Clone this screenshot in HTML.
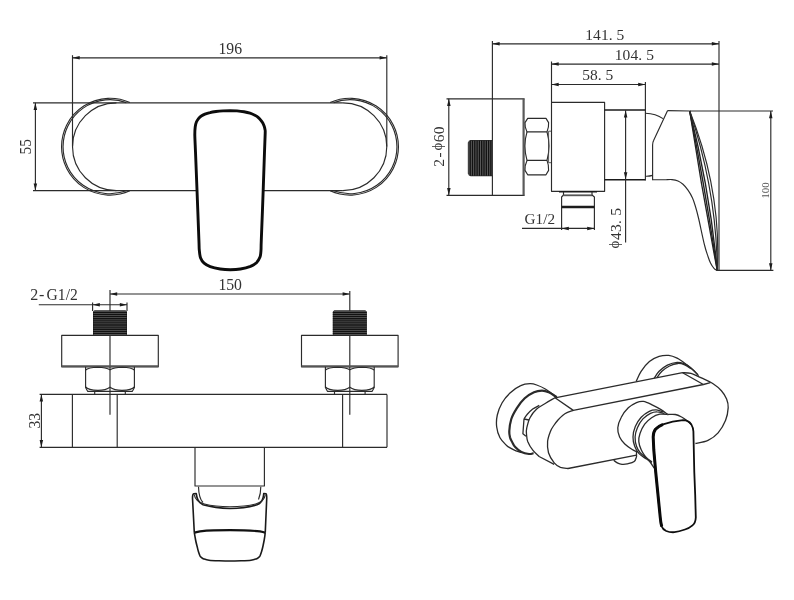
<!DOCTYPE html>
<html lang="en">
<head>
<meta charset="utf-8">
<title>Shower mixer dimension drawing</title>
<style>
html,body{margin:0;padding:0;background:#fff;}
body{width:794px;height:600px;overflow:hidden;}
svg{display:block;will-change:transform;}
svg line,svg path{fill:none;stroke:#2b2b2b;stroke-width:1.15;stroke-linecap:butt;stroke-linejoin:round;}
svg .iso path{stroke-width:1.3;}
svg .thick{stroke:#0c0c0c;stroke-width:2.9;}
svg .thick2{stroke:#111;stroke-width:2.2;}
svg .med{stroke:#1a1a1a;stroke-width:1.6;}
svg .thin{stroke:#444;stroke-width:0.9;}
svg .hatch{stroke:#121212;stroke-width:1.35;}
svg .iso path.med2{stroke:#2a2a2a;stroke-width:2.2;}
svg .iso path.hand{stroke:#0e0e0e;stroke-width:1.8;}
svg .iso path.hand3{stroke:#0a0a0a;stroke-width:3;}
svg .dbl2{stroke:#555;stroke-width:1.8;}
svg .band{stroke:#1c1c1c;stroke-width:2.6;}
svg .bl{stroke:#222;stroke-width:1.35;}
svg .thr{fill:#5e5e5e;stroke:none;}
svg .dbl{stroke:#5a5a5a;stroke-width:2.2;}
svg .ar{fill:#1c1c1c;stroke:none;}
svg text{font-family:"Liberation Serif","DejaVu Serif",serif;fill:#333;stroke:none;}
svg text.lt{fill:#555;}
</style>
</head>
<body>
<svg width="794" height="600" viewBox="0 0 794 600">
<rect x="0" y="0" width="794" height="600" fill="#ffffff" stroke="none"/>
<g id="view-front">
<line x1="72.5" y1="55.2" x2="72.5" y2="146.6"/>
<line x1="386.8" y1="55.2" x2="386.8" y2="146.6"/>
<line x1="72.5" y1="57.8" x2="386.8" y2="57.8"/>
<polygon points="72.5,57.8 79.7,56.0 79.7,59.5" class="ar"/>
<polygon points="386.8,57.8 379.6,56.0 379.6,59.5" class="ar"/>
<text font-size="17" text-anchor="middle" x="230.3" y="53.8" textLength="23.6" lengthAdjust="spacingAndGlyphs">196</text>
<line x1="35.4" y1="102.8" x2="35.4" y2="190.6"/>
<polygon points="35.4,102.8 33.6,110.0 37.1,110.0" class="ar"/>
<polygon points="35.4,190.6 33.6,183.4 37.1,183.4" class="ar"/>
<text font-size="16.4" text-anchor="middle" x="31.4" y="146.7" transform="rotate(-90 31.4 146.7)" textLength="15.4" lengthAdjust="spacingAndGlyphs">55</text>
<line x1="33" y1="102.8" x2="342.9" y2="102.8"/>
<line x1="33" y1="190.6" x2="197" y2="190.6"/>
<line x1="263.2" y1="190.6" x2="342.9" y2="190.6"/>
<path d="M116.4 102.8 A43.9 43.9 0 0 0 116.4 190.6"/>
<path d="M342.9 102.8 A43.9 43.9 0 0 1 342.9 190.6"/>
<path d="M129.9 102.6 A48.4 48.4 0 1 0 129.9 190.8"/>
<path d="M330.1 102.6 A48.4 48.4 0 1 1 330.1 190.8"/>
<path d="M126.3 102.6 A47.0 47.0 0 1 0 126.3 190.8"/>
<path d="M333.7 102.6 A47.0 47.0 0 1 1 333.7 190.8"/>
<path d="M194.8 135.0 C194.8 130.8 194.9 129.2 195.2 127.0 C195.5 124.8 195.8 123.4 196.4 122.0 C197.0 120.6 197.7 119.6 198.5 118.6 C199.3 117.6 200.2 116.7 201.3 116.0 C202.4 115.3 203.5 114.8 204.9 114.2 C206.3 113.6 208.2 113.0 210.0 112.6 C211.8 112.1 213.8 111.8 216.0 111.5 C218.2 111.2 220.7 111.0 223.0 110.9 C225.3 110.8 227.7 110.7 230.0 110.7 C232.3 110.7 234.7 110.7 237.0 110.9 C239.3 111.1 241.8 111.4 244.0 111.8 C246.2 112.2 248.1 112.6 250.0 113.2 C251.9 113.8 253.9 114.8 255.3 115.5 C256.7 116.2 257.5 116.8 258.4 117.6 C259.3 118.4 260.0 119.2 260.7 120.1 C261.4 121.0 262.2 122.0 262.8 123.0 C263.4 124.0 263.8 125.1 264.2 126.2 C264.6 127.3 264.8 128.4 265.0 129.6 C265.2 130.8 265.3 129.4 265.2 133.1 C265.1 136.8 264.8 142.5 264.5 152.0 C264.2 161.5 263.7 175.3 263.2 190.0 C262.7 204.7 261.7 230.0 261.3 240.0 C260.9 250.0 261.2 247.2 261.0 250.1 C260.8 252.9 260.8 255.0 260.0 257.1 C259.2 259.2 258.1 261.1 256.5 262.7 C254.9 264.2 253.2 265.3 250.5 266.4 C247.8 267.4 243.8 268.4 240.4 269.0 C237.0 269.6 233.7 269.7 230.3 269.7 C226.9 269.7 223.5 269.5 220.2 269.0 C216.8 268.5 212.9 267.7 210.2 266.7 C207.5 265.7 205.7 264.6 204.1 263.2 C202.5 261.8 201.4 260.3 200.6 258.1 C199.8 255.9 199.6 253.1 199.3 250.1 C199.0 247.1 199.3 250.0 198.9 240.0 C198.5 230.0 197.6 204.7 197.0 190.0 C196.4 175.3 195.9 161.2 195.5 152.0 C195.1 142.8 194.9 139.2 194.8 135.0 Z" class="thick"/>
</g>
<g id="view-side">
<line x1="492.4" y1="41" x2="492.4" y2="195.3"/>
<line x1="719" y1="41" x2="719" y2="270.3"/>
<line x1="492.4" y1="43.8" x2="719" y2="43.8"/>
<polygon points="492.4,43.8 499.6,42.0 499.6,45.5" class="ar"/>
<polygon points="719.0,43.8 711.8,42.0 711.8,45.5" class="ar"/>
<text font-size="15.5" text-anchor="start" x="585.2 593.1 600.9 608.8 616.6" y="39.6">141.5</text>
<line x1="551.5" y1="61.5" x2="551.5" y2="102.4"/>
<line x1="551.5" y1="64.1" x2="719" y2="64.1"/>
<polygon points="551.5,64.1 558.7,62.3 558.7,65.8" class="ar"/>
<polygon points="719.0,64.1 711.8,62.3 711.8,65.8" class="ar"/>
<text font-size="15.5" text-anchor="start" x="614.8 622.6 630.5 638.3 646.2" y="59.8">104.5</text>
<line x1="551.5" y1="84.5" x2="645.4" y2="84.5"/>
<line x1="645.4" y1="82" x2="645.4" y2="110"/>
<polygon points="551.5,84.5 558.7,82.8 558.7,86.2" class="ar"/>
<polygon points="645.4,84.5 638.2,82.8 638.2,86.2" class="ar"/>
<text font-size="15.5" text-anchor="start" x="582.2 590.0 597.8 605.6" y="80.2">58.5</text>
<line x1="446.5" y1="98.8" x2="524.6" y2="98.8"/>
<line x1="446.5" y1="195.3" x2="524.6" y2="195.3"/>
<line x1="448.8" y1="98.8" x2="448.8" y2="195.3"/>
<polygon points="448.8,98.8 447.1,106.0 450.6,106.0" class="ar"/>
<polygon points="448.8,195.3 447.1,188.1 450.6,188.1" class="ar"/>
<line x1="523.6" y1="98.8" x2="523.6" y2="195.3" class="dbl"/>
<text font-size="15.5" text-anchor="start" transform="translate(444.2 166.8) rotate(-90)" y="0"><tspan x="0 9.2">2-</tspan><tspan x="16.2" font-size="15" dy="-2.2">ϕ</tspan><tspan x="24.6 32.6" dy="2.2">60</tspan></text>
<path d="M492.4 140.6 L470.5 140.6 L468.4 142.6 L468.4 173.6 L470.5 175.6 L492.4 175.6"/>
<rect x="468.6" y="140.8" width="23.6" height="34.6" class="thr"/>
<line x1="470.2" y1="140.4" x2="470.2" y2="175.8" class="hatch"/>
<line x1="472.5" y1="140.4" x2="472.5" y2="175.8" class="hatch"/>
<line x1="474.8" y1="140.4" x2="474.8" y2="175.8" class="hatch"/>
<line x1="477.1" y1="140.4" x2="477.1" y2="175.8" class="hatch"/>
<line x1="479.4" y1="140.4" x2="479.4" y2="175.8" class="hatch"/>
<line x1="481.7" y1="140.4" x2="481.7" y2="175.8" class="hatch"/>
<line x1="484.0" y1="140.4" x2="484.0" y2="175.8" class="hatch"/>
<line x1="486.3" y1="140.4" x2="486.3" y2="175.8" class="hatch"/>
<line x1="488.6" y1="140.4" x2="488.6" y2="175.8" class="hatch"/>
<line x1="490.9" y1="140.4" x2="490.9" y2="175.8" class="hatch"/>
<path d="M527 131.9 Q524.6 127 525 122.6 L527.7 118.4 H546 L548.6 122.6 Q549 127 547 131.9 Z"/>
<path d="M527 131.9 Q522.8 146 527 160.4 M547 131.9 Q551 146 547 160.4"/>
<path d="M527 160.4 Q524.6 165.4 525 170.4 L527.7 174.8 H546 L548.6 170.4 Q549 165.4 547 160.4 Z"/>
<path d="M548.6 131.2 V162.7 M548.6 131.2 H551.6 M548.6 162.7 H551.6" class="thin"/>
<path d="M551.5 102.4 H604.6 V191.3 H551.5 Z"/>
<line x1="559" y1="191.7" x2="597" y2="191.7" class="med"/>
<path d="M563.5 192 V195 M592 192 V195"/>
<line x1="563.5" y1="195.3" x2="592" y2="195.3" class="dbl2"/>
<path d="M563.5 195 L561.6 197 V230 M592 195 L594.4 197 V230"/>
<line x1="561.6" y1="207" x2="594.4" y2="207" class="band"/>
<line x1="522" y1="228.4" x2="594.4" y2="228.4"/>
<polygon points="561.6,228.4 568.8,226.7 568.8,230.2" class="ar"/>
<polygon points="594.4,228.4 587.2,226.7 587.2,230.2" class="ar"/>
<text font-size="15.5" text-anchor="start" x="524.6" y="223.5" textLength="30.4" lengthAdjust="spacingAndGlyphs">G1/2</text>
<line x1="604.6" y1="110" x2="645.4" y2="110" class="med"/>
<line x1="604.6" y1="179.7" x2="645.4" y2="179.7" class="med"/>
<line x1="645.4" y1="110" x2="645.4" y2="180.4"/>
<line x1="625.6" y1="110.2" x2="625.6" y2="242.4"/>
<polygon points="625.6,110.4 623.9,117.6 627.4,117.6" class="ar"/>
<polygon points="625.6,179.4 623.9,172.2 627.4,172.2" class="ar"/>
<text font-size="15.5" text-anchor="start" transform="translate(620.8 248.4) rotate(-90)" y="0"><tspan x="0" font-size="15" dy="-2.2">ϕ</tspan><tspan x="8.3 16.4 24.5 32.6" dy="2.2">43.5</tspan></text>
<path d="M645.4 113.2 Q656 113.6 663 118.6"/>
<path d="M645.4 176.2 Q649 176.4 652.6 175.4"/>
<path d="M667.6 110.6 L689.6 111 "/>
<path d="M667.6 110.6 L653.6 140.6 Q652.6 142.6 652.6 145 L652.6 179.8 L666 179.7"/>
<path d="M666.0 179.7 C667.0 179.7 670.0 179.4 672.0 179.6 C674.0 179.8 676.2 180.2 678.0 181.0 C679.8 181.8 681.3 182.8 683.0 184.3 C684.7 185.8 686.4 187.9 688.0 190.2 C689.6 192.5 691.2 195.2 692.5 198.0 C693.8 200.8 694.6 203.7 695.6 207.0 C696.6 210.3 697.0 211.7 698.5 218.0 C700.0 224.3 702.9 238.6 704.5 245.0 C706.1 251.4 707.0 253.5 708.0 256.5 C709.0 259.5 709.5 261.0 710.5 263.0 C711.5 265.0 713.1 267.4 714.2 268.6 C715.3 269.9 716.8 270.2 717.3 270.5"/>
<path d="M689.7 111 C697.9 164.2 707.1 217.3 717.3 270.5" class="bl"/>
<path d="M689.7 111 C700.3 164.2 709.5 217.3 717.3 270.5" class="bl"/>
<path d="M689.7 111 C703.1 164.2 712.3 217.3 717.3 270.5" class="bl"/>
<path d="M689.7 111 C707.6 164.2 716.8 217.3 717.3 270.5"/>
<path d="M689.7 111 C710.9 164.2 720.1 217.3 717.3 270.5"/>
<line x1="689.6" y1="111" x2="773" y2="111"/>
<line x1="717.4" y1="270.4" x2="773.4" y2="270.4"/>
<line x1="770.8" y1="111" x2="770.8" y2="270.4"/>
<polygon points="770.8,111.0 769.0,118.2 772.5,118.2" class="ar"/>
<polygon points="770.8,270.4 769.0,263.2 772.5,263.2" class="ar"/>
<text font-size="11" text-anchor="middle" x="769" y="190.5" transform="rotate(-90 769 190.5)" textLength="16" lengthAdjust="spacingAndGlyphs" class="lt">100</text>
</g>
<g id="view-plan">
<line x1="110" y1="290" x2="110" y2="414.8"/>
<line x1="349.8" y1="291" x2="349.8" y2="414.8"/>
<line x1="110" y1="294" x2="349.8" y2="294"/>
<polygon points="110.0,294.0 117.2,292.2 117.2,295.8" class="ar"/>
<polygon points="349.8,294.0 342.6,292.2 342.6,295.8" class="ar"/>
<text font-size="17" text-anchor="middle" x="230.2" y="289.9" textLength="23.6" lengthAdjust="spacingAndGlyphs">150</text>
<text font-size="16" text-anchor="start" y="300.4"><tspan x="30.2 38.9">2-</tspan><tspan x="46.6" textLength="31.2" lengthAdjust="spacingAndGlyphs">G1/2</tspan></text>
<line x1="38.8" y1="304.7" x2="127" y2="304.7"/>
<line x1="92.6" y1="302.6" x2="92.6" y2="311"/>
<line x1="127" y1="302.6" x2="127" y2="311"/>
<polygon points="92.6,304.7 99.8,302.9 99.8,306.4" class="ar"/>
<polygon points="127.0,304.7 119.8,302.9 119.8,306.4" class="ar"/>
<path d="M93.6 335 V312.2 L94.6 310.8 H125.4 L126.4 312.2 V335.3"/>
<rect x="93.6" y="311" width="32.8" height="24" class="thr"/>
<line x1="93.0" y1="312.4" x2="127.0" y2="312.4" class="hatch"/>
<line x1="93.0" y1="314.5" x2="127.0" y2="314.5" class="hatch"/>
<line x1="93.0" y1="316.6" x2="127.0" y2="316.6" class="hatch"/>
<line x1="93.0" y1="318.7" x2="127.0" y2="318.7" class="hatch"/>
<line x1="93.0" y1="320.8" x2="127.0" y2="320.8" class="hatch"/>
<line x1="93.0" y1="322.9" x2="127.0" y2="322.9" class="hatch"/>
<line x1="93.0" y1="325.0" x2="127.0" y2="325.0" class="hatch"/>
<line x1="93.0" y1="327.1" x2="127.0" y2="327.1" class="hatch"/>
<line x1="93.0" y1="329.2" x2="127.0" y2="329.2" class="hatch"/>
<line x1="93.0" y1="331.3" x2="127.0" y2="331.3" class="hatch"/>
<line x1="93.0" y1="333.4" x2="127.0" y2="333.4" class="hatch"/>
<path d="M61.7 335.3 H158.3 V366.8 H61.7 Z"/>
<line x1="61.7" y1="366.2" x2="158.3" y2="366.2" class="dbl2"/>
<path d="M85.6 366.8 V387.6 L87.6 391.3 H132.4 L134.4 387.6 V366.8"/>
<path d="M85.6 370.2 Q88 367.6 98 367.3 Q106 367.5 110 369.8 Q114 367.5 122 367.3 Q132 367.6 134.4 370.2"/>
<path d="M85.6 386.8 Q88 390 98 390.4 Q106 390.2 110 387.2 Q114 390.2 122 390.4 Q132 390 134.4 386.8"/>
<path d="M94.7 391.3 V394.4 M125.3 391.3 V394.4"/>
<path d="M333.40000000000003 335 V312.2 L334.40000000000003 310.8 H365.2 L366.2 312.2 V335.3"/>
<rect x="333.40000000000003" y="311" width="32.8" height="24" class="thr"/>
<line x1="332.8" y1="312.4" x2="366.8" y2="312.4" class="hatch"/>
<line x1="332.8" y1="314.5" x2="366.8" y2="314.5" class="hatch"/>
<line x1="332.8" y1="316.6" x2="366.8" y2="316.6" class="hatch"/>
<line x1="332.8" y1="318.7" x2="366.8" y2="318.7" class="hatch"/>
<line x1="332.8" y1="320.8" x2="366.8" y2="320.8" class="hatch"/>
<line x1="332.8" y1="322.9" x2="366.8" y2="322.9" class="hatch"/>
<line x1="332.8" y1="325.0" x2="366.8" y2="325.0" class="hatch"/>
<line x1="332.8" y1="327.1" x2="366.8" y2="327.1" class="hatch"/>
<line x1="332.8" y1="329.2" x2="366.8" y2="329.2" class="hatch"/>
<line x1="332.8" y1="331.3" x2="366.8" y2="331.3" class="hatch"/>
<line x1="332.8" y1="333.4" x2="366.8" y2="333.4" class="hatch"/>
<path d="M301.5 335.3 H398.1 V366.8 H301.5 Z"/>
<line x1="301.5" y1="366.2" x2="398.1" y2="366.2" class="dbl2"/>
<path d="M325.40000000000003 366.8 V387.6 L327.40000000000003 391.3 H372.2 L374.2 387.6 V366.8"/>
<path d="M325.40000000000003 370.2 Q327.8 367.6 337.8 367.3 Q345.8 367.5 349.8 369.8 Q353.8 367.5 361.8 367.3 Q371.8 367.6 374.2 370.2"/>
<path d="M325.40000000000003 386.8 Q327.8 390 337.8 390.4 Q345.8 390.2 349.8 387.2 Q353.8 390.2 361.8 390.4 Q371.8 390 374.2 386.8"/>
<path d="M334.5 391.3 V394.4 M365.1 391.3 V394.4"/>
<line x1="39.6" y1="394.4" x2="387" y2="394.4"/>
<line x1="39.6" y1="447.3" x2="387" y2="447.3"/>
<line x1="72.4" y1="394.4" x2="72.4" y2="447.3"/>
<line x1="117.2" y1="394.4" x2="117.2" y2="447.3"/>
<line x1="342.6" y1="394.4" x2="342.6" y2="447.3"/>
<line x1="387" y1="394.4" x2="387" y2="447.3"/>
<line x1="41.4" y1="394.4" x2="41.4" y2="447.3"/>
<polygon points="41.4,394.4 39.6,401.6 43.1,401.6" class="ar"/>
<polygon points="41.4,447.3 39.6,440.1 43.1,440.1" class="ar"/>
<text font-size="16.4" text-anchor="middle" x="40" y="420.8" transform="rotate(-90 40 420.8)" textLength="15.6" lengthAdjust="spacingAndGlyphs">33</text>
<path d="M195 447.3 V486 H264.4 V447.3"/>
<path d="M198.5 486.8 C198.7 494 200 499.6 203 502.5"/>
<path d="M260.8 486.8 C260.8 491.6 260 496 258.5 499.5"/>
<path d="M192.5 498 C192.5 495 193 494 193.7 493.8 L196.2 493.5 C196.6 496 197 498 197.8 499.5 C199 502.6 200.6 503.8 203 504.8 C211 507 220 508.3 230 508.5 C240 508.3 249 507 257 504.8 C260 503.6 262 501.4 263 498 C263.4 496.6 263.6 495 263.75 493.5 L266 493.8 C266.6 494 266.75 495 266.75 498" class="med"/>
<path d="M194.2 494.6 C195 499 197.4 502.2 204.4 504 C212 505.9 221 506.7 230 506.8 C239 506.7 248 505.9 255.6 504 C262.6 502.2 264.6 499 265.4 494.6"/>
<path d="M192.5 498 L194.3 532.6 M266.75 498 L265.25 532.8" class="med"/>
<path d="M194.3 532.6 C194.5 533.8 195.2 537.8 195.6 540.0 C196.0 542.2 196.5 544.1 197.0 546.0 C197.5 547.9 197.9 549.8 198.4 551.4 C198.9 553.0 199.5 554.7 200.0 555.8 C200.5 556.8 201.0 557.1 201.6 557.6 C202.2 558.1 202.5 558.5 203.8 558.9 C205.0 559.3 206.5 559.9 209.0 560.2 C211.5 560.6 215.5 560.7 219.0 560.8 C222.5 560.9 226.3 561.0 230.0 561.0 C233.7 561.0 237.5 560.9 241.0 560.8 C244.5 560.7 248.5 560.6 251.0 560.2 C253.5 559.9 255.0 559.3 256.2 558.9 C257.5 558.5 257.8 558.1 258.4 557.6 C259.0 557.1 259.5 556.8 260.0 555.8 C260.5 554.7 261.1 553.0 261.6 551.4 C262.1 549.8 262.6 547.9 263.0 546.0 C263.4 544.1 263.8 542.2 264.2 540.0 C264.6 537.8 265.1 534.0 265.2 532.8" class="med"/>
<path d="M194.3 532.7 C196 532.2 198 531.6 200 531.3 C210 530.4 220 530.2 230 530.2 C240 530.2 250 530.4 260 531.3 C262 531.6 264 532.2 265.25 532.8" class="thick2"/>
</g>
<g id="view-iso" class="iso">
<path d="M556.7 397.2 C554.8 395.8 548.6 391.0 545.3 389.0 C542.0 387.0 539.2 385.9 536.7 385.0 C534.2 384.1 532.7 383.6 530.0 383.7 C527.3 383.8 524.0 384.1 520.7 385.7 C517.4 387.2 513.1 390.1 510.0 393.0 C506.9 395.9 504.1 399.3 502.0 403.0 C499.9 406.7 498.2 411.0 497.3 415.0 C496.4 419.0 496.2 423.2 496.7 427.0 C497.1 430.8 498.4 434.7 500.0 437.7 C501.6 440.7 504.5 443.4 506.3 445.2 C508.1 447.0 509.4 447.5 511.0 448.4 C512.6 449.3 514.3 450.1 516.0 450.8 C517.7 451.5 520.5 452.1 521.4 452.4"/>
<path d="M556.7 397.2 C555.4 396.4 551.2 393.4 548.7 392.3 C546.2 391.2 544.5 390.7 542.0 390.7 C539.5 390.7 536.9 391.0 534.0 392.3 C531.1 393.6 527.6 395.6 524.7 398.3 C521.8 401.0 518.9 404.9 516.7 408.3 C514.5 411.8 512.5 415.2 511.3 419.0 C510.1 422.8 509.5 427.9 509.3 431.0 C509.1 434.1 509.7 435.8 510.1 437.6 C510.6 439.4 511.1 440.1 512.0 441.7 C512.9 443.3 513.6 445.4 515.2 447.1 C516.8 448.8 519.1 451.0 521.4 452.1 C523.7 453.2 527.0 453.8 529.0 454.0 C531.0 454.2 532.8 453.3 533.6 453.2" class="med2"/>
<path d="M539.3 405.4 C538.2 406.0 534.7 407.5 532.7 409.0 C530.7 410.5 528.8 412.6 527.3 414.3 C525.8 416.0 524.5 418.2 524.0 419.0"/>
<path d="M524 419 L522.9 433.7 L526 436.2 M524 419 L529 420"/>
<path d="M555.0 397.8 C553.5 398.7 549.0 401.1 546.0 403.0 C543.0 404.9 539.4 406.6 536.7 409.0 C534.0 411.4 531.7 414.5 530.0 417.7 C528.3 420.9 527.3 425.6 526.7 428.3 C526.1 431.0 526.3 431.8 526.5 434.0 C526.7 436.2 526.7 438.7 527.7 441.4 C528.8 444.1 530.9 447.7 532.8 450.2 C534.7 452.7 538.0 455.4 539.1 456.5 L554.2 464.4"/>
<path d="M573.3 410.4 C572.2 410.8 568.8 411.8 567.0 412.6 C565.2 413.4 564.1 414.2 562.6 415.4 C561.1 416.6 559.5 418.3 558.0 420.0 C556.5 421.7 555.1 423.6 553.8 425.5 C552.5 427.4 551.4 428.8 550.4 431.4 C549.4 434.0 547.9 437.8 547.6 441.4 C547.3 444.9 547.4 449.1 548.5 452.7 C549.6 456.3 552.2 460.4 554.2 462.8 C556.2 465.2 558.2 466.4 560.5 467.4 C562.8 468.3 566.8 468.3 568.0 468.5 L636.5 455.2"/>
<path d="M555 397.8 L682.6 372.7 L703.4 384.5 L573.3 410.4 Z"/>
<path d="M703.4 384.5 L710.4 382.7"/>
<path d="M682.6 372.7 C684.0 372.8 687.8 372.5 691.0 373.4 C694.2 374.3 698.3 376.5 702.0 378.2 C705.7 379.9 709.9 381.7 713.1 383.8 C716.3 385.9 719.1 388.2 721.4 390.7 C723.6 393.2 725.5 396.2 726.6 399.0 C727.7 401.8 728.4 404.1 728.2 407.6 C728.0 411.1 727.3 416.0 725.6 420.2 C723.9 424.4 721.0 429.4 718.1 432.8 C715.2 436.2 711.8 438.5 708.0 440.3 C704.2 442.1 697.5 443.0 695.4 443.5"/>
<path d="M613.7 460.3 C614.4 460.8 616.4 462.5 617.8 463.2 C619.2 463.9 620.4 464.2 622.0 464.3 C623.6 464.4 625.2 464.4 627.2 463.9 C629.2 463.4 632.7 462.7 634.2 461.5 C635.8 460.3 636.1 457.6 636.5 456.8 L636.5 451.6"/>
<path d="M636.2 381.3 C637.0 379.6 638.9 374.6 641.1 371.3 C643.3 368.0 646.4 364.1 649.4 361.6 C652.4 359.1 655.9 357.4 659.1 356.4 C662.3 355.4 665.8 355.1 668.8 355.4 C671.8 355.7 674.3 356.8 677.1 358.2 C679.9 359.6 682.6 361.6 685.4 363.7 C688.2 365.8 691.5 368.6 693.7 370.6 C695.9 372.6 697.8 374.9 698.6 375.7"/>
<path d="M654.2 378.2 C655.0 377.1 656.9 373.5 659.1 371.3 C661.3 369.1 664.4 366.6 667.4 365.1 C670.4 363.6 674.3 362.5 677.1 362.3 C679.9 362.1 681.7 362.8 684.0 363.7 C686.3 364.6 688.7 366.0 691.0 367.9 C693.3 369.8 696.8 373.6 697.9 374.8"/>
<path d="M656.9 377.7 C657.7 376.6 659.8 373.2 661.9 371.3 C664.0 369.4 666.9 367.3 669.5 366.0 C672.1 364.7 675.3 363.7 677.8 363.5 C680.3 363.3 682.5 364.0 684.7 364.9 C686.9 365.8 690.0 368.1 691.0 368.8"/>
<path d="M667.7 414.5 C666.6 413.7 663.5 411.2 661.0 409.6 C658.5 408.0 655.5 406.5 652.6 405.1 C649.7 403.7 646.2 401.8 643.5 401.4 C640.8 401.0 639.0 401.5 636.5 402.6 C634.0 403.7 630.8 405.4 628.3 407.8 C625.8 410.2 623.0 413.9 621.3 417.2 C619.5 420.5 618.1 424.4 617.8 427.7 C617.5 431.0 618.4 434.3 619.6 437.0 C620.8 439.7 622.8 442.0 624.8 444.0 C626.8 446.0 629.6 447.8 631.8 449.2 C633.9 450.6 636.7 451.6 637.7 452.1"/>
<path d="M663.3 411.9 C662.1 411.6 658.6 410.0 656.3 409.9 C654.0 409.8 651.8 410.1 649.3 411.3 C646.8 412.5 643.5 414.7 641.2 417.2 C638.9 419.7 636.7 423.2 635.3 426.5 C633.9 429.8 633.1 433.7 633.0 437.0 C632.9 440.3 633.7 443.6 634.7 446.3 C635.7 449.0 636.9 451.2 638.8 453.3 C640.6 455.4 643.7 457.1 645.8 458.6 C647.9 460.2 650.6 461.9 651.6 462.6"/>
<path d="M664.5 413.7 C663.2 413.4 659.3 411.9 657.0 411.9 C654.7 411.8 652.9 412.2 650.5 413.4 C648.1 414.6 645.1 416.5 642.9 418.9 C640.7 421.3 638.7 424.7 637.4 427.7 C636.1 430.7 635.2 433.9 635.1 437.0 C635.0 440.1 635.6 443.7 636.5 446.3 C637.4 448.9 638.5 450.8 640.2 452.7 C641.9 454.6 644.5 456.4 646.5 458.0 C648.5 459.6 651.1 461.3 652.0 462.0"/>
<path d="M667.7 414.5 C666.4 414.4 662.5 413.7 659.8 414.2 C657.1 414.7 654.1 416.0 651.6 417.7 C649.1 419.4 646.6 421.6 644.7 424.2 C642.8 426.8 641.0 430.6 640.0 433.5 C639.0 436.4 638.6 438.9 638.8 441.6 C639.0 444.3 640.2 447.5 641.2 449.8 C642.2 452.1 643.2 453.6 644.5 455.4 C645.8 457.2 647.4 458.4 649.0 460.5 C650.6 462.6 653.3 466.8 654.2 468.0"/>
<path d="M667.7 414.5 C669.0 414.5 673.0 414.1 675.3 414.5 C677.6 414.9 679.5 415.9 681.6 417.0 C683.7 418.1 686.3 420.1 687.9 421.4 C689.5 422.7 690.8 424.1 691.4 424.6"/>
<path d="M653.2 437 C653.3 433 654 431 655.5 429.2 C657.5 427 660 425.4 663 424.3 C668 422.6 676 420.8 683 420.2 C686.5 420.2 689.5 421.6 691.3 424.4 C692.6 426.6 693.2 428.6 693.4 431.5 L694.3 472.5 L695.2 495 L695.8 517.5 C695.6 521.5 694.6 523.8 692.5 525.4 C690 527.6 688 528.6 685 529.5 C681 530.9 678 531.8 674.5 532.2 C671 532.4 668.6 532 666.25 531 C663.6 529.8 662.4 528.6 661.75 526.5 C660.8 523.5 660.5 520.5 660.25 517.5 L658 495 L655.75 472.5 L653.8 450 Z" class="hand"/>
<path d="M661.75 526.5 C660.8 523.5 660.5 520.5 660.25 517.5 L658 495 L655.75 472.5 L653.8 450 L653.2 437 C653.3 433 654 431 655.5 429.2 C657.5 427 660 425.4 663 424.3" class="hand3"/>
</g>
</svg>
</body>
</html>
